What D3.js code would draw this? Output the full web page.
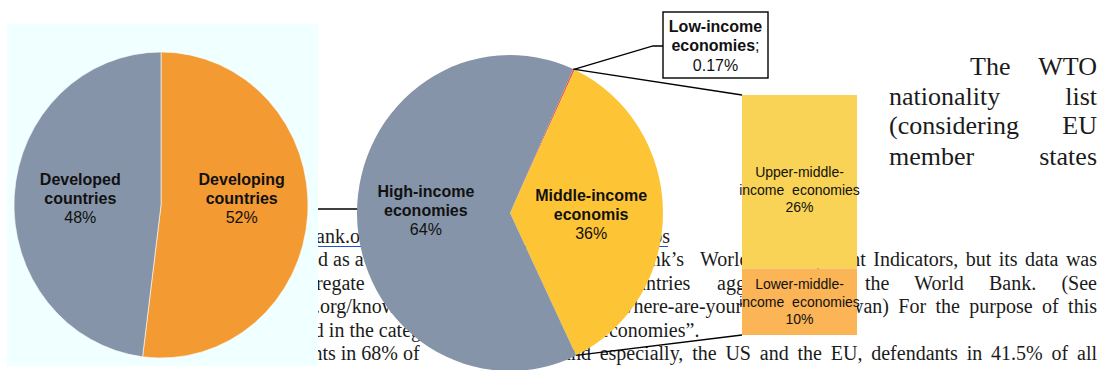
<!DOCTYPE html>
<html>
<head>
<meta charset="utf-8">
<script src="https://cdn.jsdelivr.net/npm/d3@7"></script>
<style>
body { margin: 0; background: #fff; }
svg { display: block; }
.doc { font-family: "Liberation Serif", "Times New Roman", serif; fill: #1b1b1b; }
.lbl { font-family: "Liberation Sans", Arial, Helvetica, sans-serif; fill: #111; }
</style>
</head>
<body>
<div id="chart"></div>
<script>
const width = 1101;
const height = 370;

// WTO members by development status
const statusLines = [['Developing', 'countries'], ['Developed', 'countries']];
const statusValues = [52, 48];
const statusColors = ['#f39a33', '#8594a8'];

// WTO members by World Bank income group
const incomeLines = [['Low-income', 'economies'], ['Middle-income', 'economis'], ['High-income', 'economies']];
const incomeValues = [0.17, 36, 64];
const incomeColors = ['#ee5548', '#fdc435', '#8594a8'];

// break-down of the middle-income slice
const middleLines = [['Lower-middle-', 'income  economies'], ['Upper-middle-', 'income  economies']];
const middleValues = [10, 26];
const middleColors = ['#fbb456', '#f8d355'];

// page text behind the charts (x = start, x1 = end, both = justified)
const docLines = [
    {t: 'The', x: 970, y: 75, s: 26},
    {t: 'WTO', x1: 1097, y: 75, s: 26},
    {t: 'nationality', x: 889, y: 105, s: 26},
    {t: 'list', x1: 1097, y: 105, s: 26},
    {t: '(considering', x: 889, y: 134, s: 26},
    {t: 'EU', x1: 1097, y: 134, s: 26},
    {t: 'member', x: 889, y: 165, s: 26},
    {t: 'states', x1: 1097, y: 165, s: 26},
    {t: 'bank.org', x: 306, y: 243, s: 20},
    {t: 'groups', x1: 670, y: 243, s: 20},
    {t: 'fied as a', x: 297, y: 266, s: 20},
    {t: 'Bank\u2019s', x1: 684, y: 266, s: 20},
    {t: 'World', x: 700, y: 266, s: 20},
    {t: 'Development Indicators, but its data was', x: 758, x1: 1097, y: 266, s: 20},
    {t: 'aggregate', x: 287, y: 290, s: 20},
    {t: 'countries agg', x: 617, x1: 746, y: 290, s: 20},
    {t: 'the World Bank. (See', x: 865, x1: 1097, y: 290, s: 20},
    {t: 'bank.org/know', x: 276, y: 313, s: 20},
    {t: 'where-are-your-data', x: 619, y: 313, s: 20},
    {t: 'taiwan) For the purpose of this', x: 829, x1: 1097, y: 313, s: 20},
    {t: 'included in the category', x: 255, y: 337, s: 20},
    {t: 'economies\u201d.', x: 600, y: 337, s: 20},
    {t: 'ments in 68% of', x: 288, y: 360, s: 20},
    {t: 'and especially, the US and the EU, defendants in 41.5% of all', x: 562, x1: 1097, y: 360, s: 20}
];

const svg = d3.select('#chart')
    .append('svg')
    .attr('width', width)
    .attr('height', height);

// ---- page text
const docG = svg.append('g').attr('class', 'doc');
docLines.forEach(function (d) {
    const txt = docG.append('text')
        .attr('y', d.y)
        .style('font-size', d.s + 'px')
        .text(d.t);
    if (d.x != null) {
        txt.attr('x', d.x);
        if (d.x1 != null) {
            const gaps = d.t.split(' ').length - 1;
            const len = txt.node().getComputedTextLength();
            if (gaps > 0) txt.style('word-spacing', ((d.x1 - d.x - len) / gaps) + 'px');
        }
    } else {
        txt.attr('x', d.x1).attr('text-anchor', 'end');
    }
});
// link underline
svg.append('line')
    .attr('x1', 316).attr('x2', 668)
    .attr('y1', 246.5).attr('y2', 246.5)
    .attr('stroke', '#2050d0')
    .attr('stroke-width', 1);

const pie = d3.pie().sort(null).value(function (d) { return d; });

function labelBlock(g, x, y, lines, pct, size, lh, bold) {
    const t = g.append('text')
        .attr('class', 'lbl')
        .attr('text-anchor', 'middle')
        .style('font-size', size + 'px')
        .style('white-space', 'pre');
    const all = lines.concat([pct]);
    all.forEach(function (s, i) {
        t.append('tspan')
            .attr('x', x)
            .attr('y', y + (i - 1) * lh)
            .style('font-weight', (bold && i < lines.length) ? 'bold' : 'normal')
            .text(s);
    });
    return t;
}

// ---- left panel: developed / developing
svg.append('rect')
    .attr('x', 7).attr('y', 24)
    .attr('width', 311).attr('height', 342)
    .attr('fill', '#f0ffff');

const pL = {cx: 161, cy: 205, rx: 147, ry: 153};
const arcL = d3.arc().innerRadius(0).outerRadius(pL.rx);
const arcLabelL = d3.arc().innerRadius(pL.rx * 0.55).outerRadius(pL.rx * 0.55);
const slicesL = pie(statusValues);

svg.append('g')
    .attr('transform', 'translate(' + pL.cx + ',' + pL.cy + ') scale(1,' + (pL.ry / pL.rx) + ')')
    .selectAll('path')
    .data(slicesL)
    .enter()
    .append('path')
    .attr('d', arcL)
    .attr('fill', function (d, i) { return statusColors[i]; })
    .attr('stroke', '#ffffff')
    .attr('stroke-width', 0.6)
    .attr('vector-effect', 'non-scaling-stroke');

slicesL.forEach(function (d, i) {
    const c = arcLabelL.centroid(d);
    labelBlock(svg, pL.cx + c[0], pL.cy - 1, statusLines[i], statusValues[i] + '%', 16, 19, true);
});

// footnote rule
svg.append('line')
    .attr('x1', 318).attr('x2', 420)
    .attr('y1', 209).attr('y2', 209)
    .attr('stroke', '#000')
    .attr('stroke-width', 1.6);

// ---- middle pie: income groups
const pM = {cx: 510, cy: 213, rx: 153, ry: 158};
const sy = pM.ry / pM.rx;
const arcM = d3.arc().innerRadius(0).outerRadius(pM.rx);
const arcLabelM = d3.arc().innerRadius(pM.rx * 0.55).outerRadius(pM.rx * 0.55);
const startM = 24.4 * Math.PI / 180;
const slicesM = d3.pie().sort(null).value(function (d) { return d; })
    .startAngle(startM).endAngle(startM + 2 * Math.PI)(incomeValues);
const labelNudgeM = [0, 7, 2];

svg.append('g')
    .attr('transform', 'translate(' + pM.cx + ',' + pM.cy + ') scale(1,' + sy + ')')
    .selectAll('path')
    .data(slicesM)
    .enter()
    .append('path')
    .attr('d', arcM)
    .attr('fill', function (d, i) { return incomeColors[i]; });

slicesM.forEach(function (d, i) {
    if (i === 0) return;
    const c = arcLabelM.centroid(d);
    labelBlock(svg, pM.cx + c[0] - (i === 1 ? 3 : 0), pM.cy + c[1] * sy + labelNudgeM[i],
        incomeLines[i], incomeValues[i] + '%', 16, 19, true);
});

function rimPoint(a) {
    return [pM.cx + pM.rx * Math.sin(a), pM.cy - pM.rx * Math.cos(a) * sy];
}

// ---- bar of pie
const barX = 742;
const barW = 115;
const yBar = d3.scaleLinear()
    .domain([0, d3.sum(middleValues)])
    .range([335, 95]);
const barNudge = [5, 13];

const pTop = rimPoint(slicesM[0].startAngle);
const pBot = rimPoint(slicesM[1].endAngle);
svg.append('line')
    .attr('x1', pTop[0]).attr('y1', pTop[1])
    .attr('x2', barX).attr('y2', yBar(d3.sum(middleValues)))
    .attr('stroke', '#000').attr('stroke-width', 1.3);
svg.append('line')
    .attr('x1', pBot[0]).attr('y1', pBot[1])
    .attr('x2', barX).attr('y2', yBar(0))
    .attr('stroke', '#000').attr('stroke-width', 1.3);

let acc = 0;
middleValues.forEach(function (v, i) {
    const y0 = yBar(acc);
    const y1 = yBar(acc + v);
    acc += v;
    svg.append('rect')
        .attr('x', barX).attr('y', y1)
        .attr('width', barW).attr('height', y0 - y1)
        .attr('fill', middleColors[i]);
    labelBlock(svg, barX + barW / 2, (y0 + y1) / 2 + barNudge[i], middleLines[i], v + '%', 14, 17.5, false);
});

// ---- callout for the low-income sliver
const pLow = rimPoint((slicesM[0].startAngle + slicesM[0].endAngle) / 2);
const box = {x: 663, y: 12, w: 105, h: 66};
svg.append('polyline')
    .attr('points', [pLow, [box.x - 10, box.y + 34], [box.x, box.y + 34]].map(function (p) { return p.join(','); }).join(' '))
    .attr('fill', 'none')
    .attr('stroke', '#000')
    .attr('stroke-width', 1.3);
svg.append('rect')
    .attr('x', box.x).attr('y', box.y)
    .attr('width', box.w).attr('height', box.h)
    .attr('fill', '#fff')
    .attr('stroke', '#000')
    .attr('stroke-width', 1.4);
const lowT = svg.append('text')
    .attr('class', 'lbl')
    .attr('text-anchor', 'middle')
    .style('font-size', '16px');
lowT.append('tspan').attr('x', box.x + box.w / 2).attr('y', 32)
    .style('font-weight', 'bold').text(incomeLines[0][0]);
const l2 = lowT.append('tspan').attr('x', box.x + box.w / 2).attr('y', 51);
l2.append('tspan').style('font-weight', 'bold').text(incomeLines[0][1]);
l2.append('tspan').text(';');
lowT.append('tspan').attr('x', box.x + box.w / 2).attr('y', 71).text(incomeValues[0] + '%');
</script>
</body>
</html>
